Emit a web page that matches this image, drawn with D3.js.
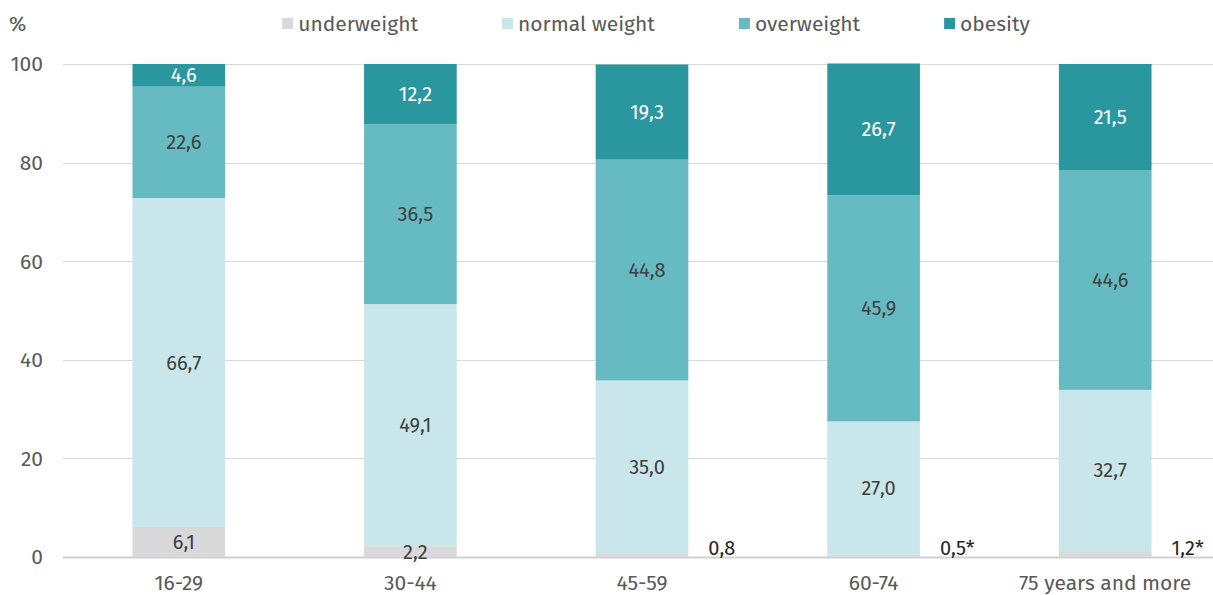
<!DOCTYPE html>
<html lang="en">
	<head>
		<meta charset="utf-8">
		<title>BMI by age group</title>
		<script type="text/javascript" src="https://d3js.org/d3.v7.min.js"></script>
		<style type="text/css">
			body { margin: 0; background: #fff; }
			text { font-family: "Fira Sans", Roboto, "Noto Sans", sans-serif; }
		</style>
	</head>
	<body>
		<script type="text/javascript">

			// Data
			var categories = ["16-29", "30-44", "45-59", "60-74", "75 years and more"];
			var seriesNames = ["underweight", "normal weight", "overweight", "obesity"];
			var underweight = [6.1, 2.2, 0.8, 0.5, 1.2];
			var normalWeight = [66.7, 49.1, 35.0, 27.0, 32.7];
			var overweight = [22.6, 36.5, 44.8, 45.9, 44.6];
			var obesity = [4.6, 12.2, 19.3, 26.7, 21.5];
			// values flagged with an asterisk in the source
			var flagged = [false, false, false, true, true];
			var yTicks = [0, 20, 40, 60, 80, 100];

			var colors = ["#d9d9db", "#c9e7ea", "#66bbc2", "#2a979f"];
			var labelColors = ["#404040", "#404040", "#404040", "#ffffff"];

			//Width and height
			var w = 1213;
			var h = 595;

			var dataset = categories.map(function(c, i) {
				return { cat: c, "underweight": underweight[i], "normal weight": normalWeight[i],
						 "overweight": overweight[i], "obesity": obesity[i], flag: flagged[i] };
			});

			var stack = d3.stack().keys(seriesNames);
			var series = stack(dataset);

			var xScale = d3.scaleBand()
				.domain(categories)
				.range([63, 1221])
				.paddingInner(0.6)
				.paddingOuter(0.3);

			var yScale = d3.scaleLinear()
				.domain([0, 100])
				.range([557, 64]);

			var fmt = function(v) { return d3.format(".1f")(v).replace(".", ","); };

			var svg = d3.select("body")
				.append("svg")
				.attr("width", w)
				.attr("height", h);

			// gridlines
			svg.append("g")
				.selectAll("line")
				.data(yTicks)
				.enter()
				.append("line")
				.attr("x1", 63)
				.attr("x2", w)
				.attr("y1", function(d) { return Math.round(yScale(d)) + 0.5; })
				.attr("y2", function(d) { return Math.round(yScale(d)) + 0.5; })
				.attr("stroke", function(d) { return d === 0 ? "#d0d0d0" : "#d9d9d9"; })
				.attr("stroke-width", function(d) { return d === 0 ? 2 : 1; });

			// y tick labels
			svg.append("g")
				.selectAll("text")
				.data(yTicks)
				.enter()
				.append("text")
				.attr("x", 43)
				.attr("y", function(d) { return yScale(d); })
				.attr("dy", "0.35em")
				.attr("text-anchor", "end")
				.attr("font-size", 21)
				.attr("fill", "#595959")
				.text(function(d) { return d; });

			svg.append("text")
				.attr("x", 9)
				.attr("y", 31)
				.attr("font-size", 21)
				.attr("fill", "#595959")
				.text("%");

			// bars
			var groups = svg.selectAll("g.series")
				.data(series)
				.enter()
				.append("g")
				.attr("class", "series")
				.style("fill", function(d, i) { return colors[i]; });

			groups.selectAll("rect")
				.data(function(d) { return d; })
				.enter()
				.append("rect")
				.attr("x", function(d) { return xScale(d.data.cat); })
				.attr("y", function(d) { return yScale(d[1]); })
				.attr("height", function(d) { return yScale(d[0]) - yScale(d[1]); })
				.attr("width", xScale.bandwidth());

			// data labels
			series.forEach(function(s, si) {
				svg.append("g")
					.selectAll("text")
					.data(s)
					.enter()
					.append("text")
					.attr("font-size", 20)
					.attr("fill", function(d) {
						return (si === 0 && d[1] - d[0] < 2) ? "#262626" : labelColors[si];
					})
					.attr("text-anchor", function(d) {
						return (si === 0 && d[1] - d[0] < 2) ? "start" : "middle";
					})
					.attr("x", function(d) {
						if (si === 0 && d[1] - d[0] < 2) return xScale(d.data.cat) + xScale.bandwidth() + 20;
						return xScale(d.data.cat) + xScale.bandwidth() / 2 + 5;
					})
					.attr("y", function(d) {
						if (si === 0 && d[1] - d[0] < 2) return yScale(0) - 9;
						return (yScale(d[0]) + yScale(d[1])) / 2;
					})
					.attr("dy", "0.35em")
					.text(function(d) {
						return fmt(d[1] - d[0]) + (si === 0 && d.data.flag ? "*" : "");
					});
			});

			// x axis labels
			svg.append("g")
				.selectAll("text")
				.data(categories)
				.enter()
				.append("text")
				.attr("x", function(d) { return xScale(d) + xScale.bandwidth() / 2; })
				.attr("y", 590)
				.attr("text-anchor", "middle")
				.attr("font-size", 21)
				.attr("fill", "#595959")
				.text(function(d) { return d; });

			// legend
			var legend = svg.append("g");
			var items = legend.selectAll("g")
				.data(seriesNames)
				.enter()
				.append("g");
			items.append("rect")
				.attr("width", 11)
				.attr("height", 11)
				.attr("y", 18)
				.attr("fill", function(d, i) { return colors[i]; });
			items.append("text")
				.attr("x", 16)
				.attr("y", 31)
				.attr("font-size", 21)
				.attr("fill", "#595959")
				.text(function(d) { return d; });

			var lx = 0;
			var offsets = [];
			items.each(function() {
				offsets.push(lx);
				lx += 16 + this.querySelector("text").getComputedTextLength() + 84;
			});
			var total = lx - 84;
			var start = 656 - total / 2;
			items.attr("transform", function(d, i) { return "translate(" + (start + offsets[i]) + ",0)"; });

		</script>
	</body>
</html>
